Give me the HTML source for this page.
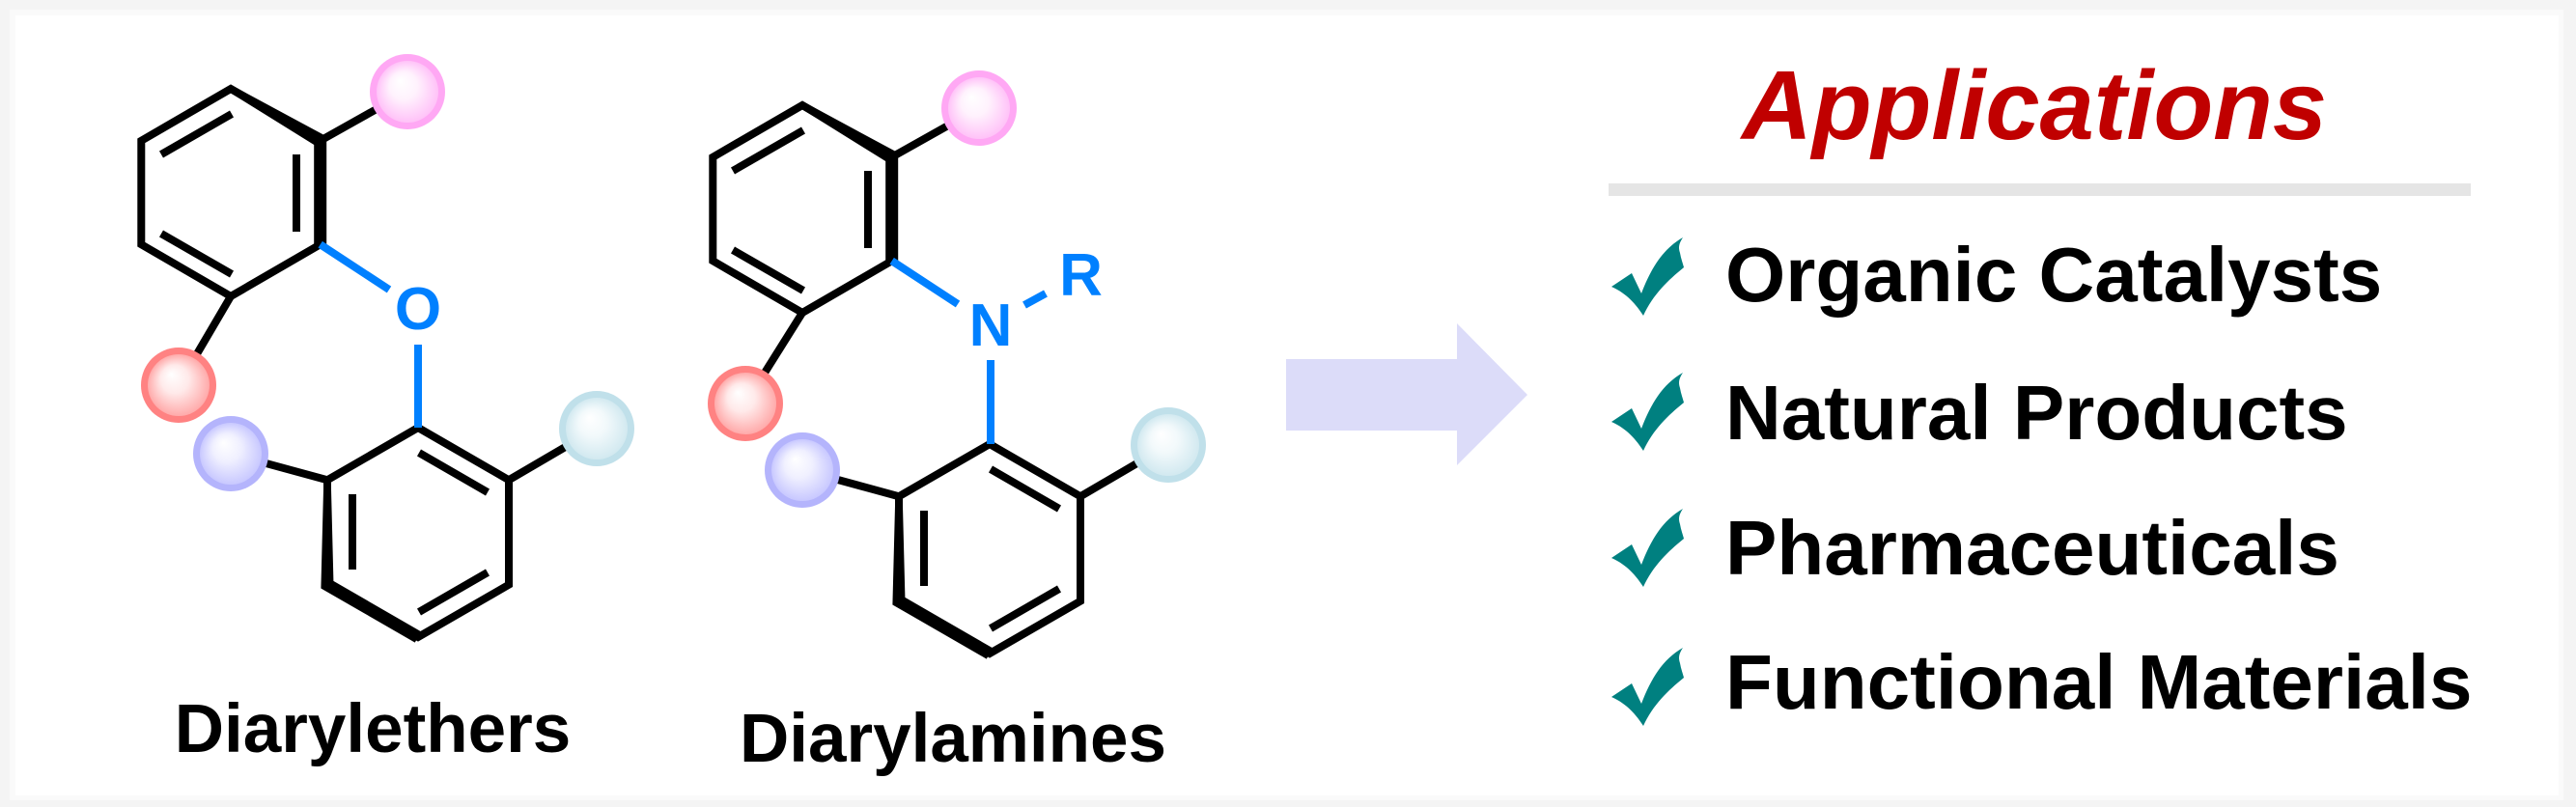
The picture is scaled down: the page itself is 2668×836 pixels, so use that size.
<!DOCTYPE html>
<html>
<head>
<meta charset="utf-8">
<style>
  html, body { margin: 0; padding: 0; background: #f4f4f4; }
  svg { display: block; }
</style>
</head>
<body>
<svg xmlns="http://www.w3.org/2000/svg" width="2668" height="836" viewBox="0 0 2668 836">
  <defs>
    <radialGradient id="gPink" cx="0.5" cy="0.5" r="0.5" fx="0.38" fy="0.32">
      <stop offset="0" stop-color="#ffffff"/>
      <stop offset="0.45" stop-color="#fff2fd"/>
      <stop offset="1" stop-color="#ffc2f8"/>
    </radialGradient>
    <radialGradient id="gRed" cx="0.5" cy="0.5" r="0.5" fx="0.38" fy="0.32">
      <stop offset="0" stop-color="#ffffff"/>
      <stop offset="0.45" stop-color="#ffeaea"/>
      <stop offset="1" stop-color="#ffaaaa"/>
    </radialGradient>
    <radialGradient id="gPur" cx="0.5" cy="0.5" r="0.5" fx="0.38" fy="0.32">
      <stop offset="0" stop-color="#ffffff"/>
      <stop offset="0.45" stop-color="#f0f0ff"/>
      <stop offset="1" stop-color="#c8c8ff"/>
    </radialGradient>
    <radialGradient id="gCyan" cx="0.5" cy="0.5" r="0.5" fx="0.38" fy="0.32">
      <stop offset="0" stop-color="#ffffff"/>
      <stop offset="0.45" stop-color="#f2f9fb"/>
      <stop offset="1" stop-color="#d2e9f0"/>
    </radialGradient>
  </defs>

  <!-- frame -->
  <rect x="0" y="0" width="2668" height="836" fill="#f4f4f4"/>
  <rect x="10" y="10" width="2645" height="819" fill="#fafafa"/>
  <rect x="16" y="16" width="2634" height="808" fill="#ffffff"/>

  <!-- ============ DIARYLETHER ============ -->
  <g id="ether">
    <g stroke="#000" stroke-width="8" fill="none">
      <line x1="331.7" y1="145.75" x2="422" y2="95"/>
      <line x1="239" y1="307" x2="185" y2="399"/>
      <line x1="339" y1="497.25" x2="239" y2="470"/>
      <line x1="527" y1="497.25" x2="618" y2="444"/>
    </g>
    <g stroke="#000" stroke-width="8" fill="none" stroke-linejoin="miter">
      <polygon points="239,92 331.7,145.75 331.7,253.25 239,307 146.3,253.25 146.3,145.75"/>
      <line x1="167" y1="160" x2="240" y2="118"/>
      <line x1="307" y1="160" x2="307" y2="240"/>
      <line x1="167" y1="242" x2="240" y2="284"/>
    </g>
    <polygon fill="#000" points="240.9,88.8 338.2,141.3 338.2,255 325.2,255 325.2,150 237.1,95.2"/>
    <g stroke="#000" stroke-width="8" fill="none" stroke-linejoin="miter">
      <polygon points="433,443 527,497.25 527,605.75 433,660 339,605.75 339,497.25"/>
      <line x1="434" y1="469" x2="505" y2="510"/>
      <line x1="365" y1="512" x2="365" y2="590"/>
      <line x1="434" y1="634" x2="505" y2="593"/>
    </g>
    <polygon fill="#000" points="342.75,497.25 345.4,601.9 436.25,654.4 433,660 429.75,665.6 332.4,609.45 335.25,497.25"/>
    <g stroke="#0080ff" stroke-width="8" fill="none">
      <line x1="331.7" y1="253.25" x2="403" y2="300"/>
      <line x1="433" y1="357" x2="433" y2="443"/>
    </g>
    <text x="433" y="341" text-anchor="middle" font-family="'Liberation Sans', Arial, sans-serif" font-weight="bold" font-size="62" fill="#0080ff">O</text>
    <circle cx="422" cy="95" r="39" fill="#ffa8f4"/>
    <circle cx="422" cy="95" r="32" fill="url(#gPink)"/>
    <circle cx="185" cy="399" r="39" fill="#ff8282"/>
    <circle cx="185" cy="399" r="32" fill="url(#gRed)"/>
    <circle cx="239" cy="470" r="39" fill="#b4b4fc"/>
    <circle cx="239" cy="470" r="32" fill="url(#gPur)"/>
    <circle cx="618" cy="444" r="39" fill="#c0e0ea"/>
    <circle cx="618" cy="444" r="32" fill="url(#gCyan)"/>
  </g>

  <text x="386" y="779" text-anchor="middle" font-family="'Liberation Sans', Arial, sans-serif" font-weight="bold" font-size="71" fill="#000">Diarylethers</text>

  <!-- ============ DIARYLAMINE ============ -->
  <g transform="translate(592,17)">
    <g stroke="#000" stroke-width="8" fill="none">
      <line x1="331.7" y1="145.75" x2="422" y2="95"/>
      <line x1="239" y1="307" x2="180" y2="401"/>
      <line x1="339" y1="497.25" x2="239" y2="470"/>
      <line x1="527" y1="497.25" x2="618" y2="444"/>
    </g>
    <g stroke="#000" stroke-width="8" fill="none" stroke-linejoin="miter">
      <polygon points="239,92 331.7,145.75 331.7,253.25 239,307 146.3,253.25 146.3,145.75"/>
      <line x1="167" y1="160" x2="240" y2="118"/>
      <line x1="307" y1="160" x2="307" y2="240"/>
      <line x1="167" y1="242" x2="240" y2="284"/>
    </g>
    <polygon fill="#000" points="240.9,88.8 338.2,141.3 338.2,255 325.2,255 325.2,150 237.1,95.2"/>
    <g stroke="#000" stroke-width="8" fill="none" stroke-linejoin="miter">
      <polygon points="433,443 527,497.25 527,605.75 433,660 339,605.75 339,497.25"/>
      <line x1="434" y1="469" x2="505" y2="510"/>
      <line x1="365" y1="512" x2="365" y2="590"/>
      <line x1="434" y1="634" x2="505" y2="593"/>
    </g>
    <polygon fill="#000" points="342.75,497.25 345.4,601.9 436.25,654.4 433,660 429.75,665.6 332.4,609.45 335.25,497.25"/>
    <g stroke="#0080ff" stroke-width="8" fill="none">
      <line x1="331.7" y1="253.25" x2="400" y2="298"/>
      <line x1="434" y1="356" x2="434" y2="443"/>
      <line x1="469" y1="299" x2="491" y2="287"/>
    </g>
    <text x="434" y="341" text-anchor="middle" font-family="'Liberation Sans', Arial, sans-serif" font-weight="bold" font-size="62" fill="#0080ff">N</text>
    <text x="527.5" y="289" text-anchor="middle" font-family="'Liberation Sans', Arial, sans-serif" font-weight="bold" font-size="62" fill="#0080ff">R</text>
    <circle cx="422" cy="95" r="39" fill="#ffa8f4"/>
    <circle cx="422" cy="95" r="32" fill="url(#gPink)"/>
    <circle cx="180" cy="401" r="39" fill="#ff8282"/>
    <circle cx="180" cy="401" r="32" fill="url(#gRed)"/>
    <circle cx="239" cy="470" r="39" fill="#b4b4fc"/>
    <circle cx="239" cy="470" r="32" fill="url(#gPur)"/>
    <circle cx="618" cy="444" r="39" fill="#c0e0ea"/>
    <circle cx="618" cy="444" r="32" fill="url(#gCyan)"/>
  </g>

  <text x="987" y="789" text-anchor="middle" font-family="'Liberation Sans', Arial, sans-serif" font-weight="bold" font-size="71" fill="#000">Diarylamines</text>

  <!-- ============ ARROW ============ -->
  <polygon fill="#dcdcf9" points="1332,372 1509,372 1509,335 1582,409 1509,482 1509,446 1332,446"/>

  <!-- ============ APPLICATIONS ============ -->
  <text x="2107" y="144" text-anchor="middle" font-family="'Liberation Sans', Arial, sans-serif" font-weight="bold" font-style="italic" font-size="101" fill="#c00000">Applications</text>
  <rect x="1666" y="190" width="893" height="13" fill="#e5e5e5"/>

  <g fill="#008080">
    <path d="M1669,297 L1690,283 L1700,304 C1710,278 1722,258 1743,246 C1739,252 1738,256 1740,262 C1741,268 1743,273 1744,277 C1728,290 1712,305 1702,327 C1695,316 1685,304 1669,297 Z"/>
    <path transform="translate(0,140)" d="M1669,297 L1690,283 L1700,304 C1710,278 1722,258 1743,246 C1739,252 1738,256 1740,262 C1741,268 1743,273 1744,277 C1728,290 1712,305 1702,327 C1695,316 1685,304 1669,297 Z"/>
    <path transform="translate(0,281)" d="M1669,297 L1690,283 L1700,304 C1710,278 1722,258 1743,246 C1739,252 1738,256 1740,262 C1741,268 1743,273 1744,277 C1728,290 1712,305 1702,327 C1695,316 1685,304 1669,297 Z"/>
    <path transform="translate(0,425)" d="M1669,297 L1690,283 L1700,304 C1710,278 1722,258 1743,246 C1739,252 1738,256 1740,262 C1741,268 1743,273 1744,277 C1728,290 1712,305 1702,327 C1695,316 1685,304 1669,297 Z"/>
  </g>

  <g font-family="'Liberation Sans', Arial, sans-serif" font-weight="bold" font-size="80" fill="#000">
    <text x="1787" y="312">Organic Catalysts</text>
    <text x="1787" y="455">Natural Products</text>
    <text x="1787" y="595">Pharmaceuticals</text>
    <text x="1787" y="734">Functional Materials</text>
  </g>
</svg>
</body>
</html>
